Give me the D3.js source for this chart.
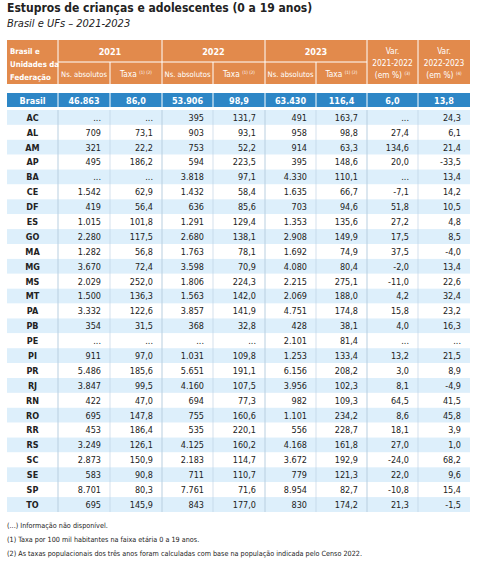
<!DOCTYPE html>
<html><head><meta charset="utf-8">
<script src="https://cdn.jsdelivr.net/npm/d3@7"></script>
<style>
body{margin:0;background:#fff}
svg{font-family:"Liberation Sans Narrow","DejaVu Sans Condensed","Roboto Condensed",sans-serif}
</style></head><body>
<svg id="chart" width="478" height="563"></svg>
<script>
// dados (null = informação não disponível)
const ufs = ["AC","AL","AM","AP","BA","CE","DF","ES","GO","MA","MG","MS","MT","PA","PB","PE","PI","PR","RJ","RN","RO","RR","RS","SC","SE","SP","TO"];
const abs2021 = [null,709,321,495,null,1542,419,1015,2280,1282,3670,2029,1500,3332,354,null,911,5486,3847,422,695,453,3249,2873,583,8701,695];
const taxa2021 = [null,73.1,22.2,186.2,null,62.9,56.4,101.8,117.5,56.8,72.4,252.0,136.3,122.6,31.5,null,97.0,185.6,99.5,47.0,147.8,186.4,126.1,150.9,90.8,80.3,145.9];
const abs2022 = [395,903,753,594,3818,1432,636,1291,2680,1763,3598,1806,1563,3857,368,null,1031,5651,4160,694,755,535,4125,2183,711,7761,843];
const taxa2022 = [131.7,93.1,52.2,223.5,97.1,58.4,85.6,129.4,138.1,78.1,70.9,224.3,142.0,141.9,32.8,null,109.8,191.1,107.5,77.3,160.6,220.1,160.2,114.7,110.7,71.6,177.0];
const abs2023 = [491,958,914,395,4330,1635,703,1353,2908,1692,4080,2215,2069,4751,428,2101,1253,6156,3956,982,1101,556,4168,3672,779,8954,830];
const taxa2023 = [163.7,98.8,63.3,148.6,110.1,66.7,94.6,135.6,149.9,74.9,80.4,275.1,188.0,174.8,38.1,81.4,133.4,208.2,102.3,109.3,234.2,228.7,161.8,192.9,121.3,82.7,174.2];
const var2122 = [null,27.4,134.6,20.0,null,-7.1,51.8,27.2,17.5,37.5,-2.0,-11.0,4.2,15.8,4.0,null,13.2,3.0,8.1,64.5,8.6,18.1,27.0,-24.0,22.0,-10.8,21.3];
const var2223 = [24.3,6.1,21.4,-33.5,13.4,14.2,10.5,4.8,8.5,-4.0,13.4,22.6,32.4,23.2,16.3,null,21.5,8.9,-4.9,41.5,45.8,3.9,1.0,68.2,9.6,15.4,-1.5];
const brasil = [46863,86.0,53906,98.9,63430,116.4,6.0,13.8];
const years = ["2021","2022","2023"];
const notes = ["(...) Informação não disponível.",
  "(1) Taxa por 100 mil habitantes na faixa etária 0 a 19 anos.",
  "(2) As taxas populacionais dos três anos foram calculadas com base na população indicada pelo Censo 2022."];

const svg = d3.select("#chart");
const orange = "#e28a4c", blue = "#2d86c6", light = "#ddeffb", line = "#b9cfe0";
const loc = d3.formatLocale({decimal: ",", thousands: ".", grouping: [3], currency: ["R$", ""], minus: "-"});
const fInt = loc.format(",d"), fDec = loc.format(",.1f");
const fmt = (v, dec) => v == null ? "..." : (dec ? fDec(v) : fInt(v));

const colEdges = [7, 58, 110, 162, 213, 265, 316, 367, 418, 470];
const x = i => colEdges[i];
const left = 7, right = 470;

// título
svg.append("text").attr("x", 7).attr("y", 12).attr("font-size", 12).attr("font-weight", "bold").attr("fill", "#222")
  .text("Estupros de crianças e adolescentes (0 a 19 anos)");
svg.append("text").attr("x", 7).attr("y", 27).attr("font-size", 11).attr("font-style", "italic").attr("fill", "#222")
  .text("Brasil e UFs – 2021-2023");

// cabeçalho
const hTop = 40, hMid = 62, hBot = 84;
svg.append("rect").attr("x", left).attr("y", hTop).attr("width", right - left).attr("height", hBot - hTop).attr("fill", orange);
const hdr = svg.append("g").attr("fill", "#fff").attr("font-size", 8.3);
[[1, hTop, hBot], [7, hTop, hBot], [8, hTop, hBot], [3, hTop, hBot], [5, hTop, hBot], [2, hMid, hBot], [4, hMid, hBot], [6, hMid, hBot]]
  .forEach(([i, y1, y2]) => svg.append("line").attr("x1", x(i)).attr("x2", x(i)).attr("y1", y1).attr("y2", y2).attr("stroke", "#fff").attr("stroke-width", 1));
svg.append("line").attr("x1", x(1)).attr("x2", x(7)).attr("y1", hMid).attr("y2", hMid).attr("stroke", "#fff");
["Brasil e", "Unidades da", "Federação"].forEach((t, k) =>
  hdr.append("text").attr("x", 10).attr("y", 54 + k * 13).attr("font-size", 7.8).attr("font-weight", "bold").text(t));
years.forEach((yr, k) => hdr.append("text").attr("x", (x(1 + 2 * k) + x(3 + 2 * k)) / 2).attr("y", 55)
  .attr("text-anchor", "middle").attr("font-weight", "bold").attr("font-size", 9).text(yr));
years.forEach((yr, k) => {
  hdr.append("text").attr("x", (x(1 + 2 * k) + x(2 + 2 * k)) / 2).attr("y", 77).attr("text-anchor", "middle").attr("font-size", 7.6).text("Ns. absolutos");
  const t = hdr.append("text").attr("x", (x(2 + 2 * k) + x(3 + 2 * k)) / 2).attr("y", 77).attr("text-anchor", "middle");
  t.append("tspan").text("Taxa ");
  t.append("tspan").attr("font-size", 4.5).attr("dy", -3).text("(1) (2)");
});
[["Var.", "2021-2022", "(em %)", "(3)"], ["Var.", "2022-2023", "(em %)", "(4)"]].forEach((a, k) => {
  const cx = (x(7 + k) + x(8 + k)) / 2;
  hdr.append("text").attr("x", cx).attr("y", 54).attr("text-anchor", "middle").text(a[0]);
  hdr.append("text").attr("x", cx).attr("y", 66).attr("text-anchor", "middle").text(a[1]);
  const t = hdr.append("text").attr("x", cx).attr("y", 78).attr("text-anchor", "middle");
  t.append("tspan").text(a[2] + " ");
  t.append("tspan").attr("font-size", 4.5).attr("dy", -3).text(a[3]);
});

// linha Brasil
const bTop = 93, bBot = 107;
svg.append("rect").attr("x", left).attr("y", bTop).attr("width", right - left).attr("height", bBot - bTop).attr("fill", blue);
for (let i = 1; i < 9; i++) svg.append("line").attr("x1", x(i)).attr("x2", x(i)).attr("y1", bTop).attr("y2", bBot).attr("stroke", "#fff");
const bg = svg.append("g").attr("fill", "#fff").attr("font-size", 9).attr("font-weight", "bold");
bg.append("text").attr("x", (x(0) + x(1)) / 2).attr("y", 103.5).attr("text-anchor", "middle").text("Brasil");
brasil.forEach((v, i) => bg.append("text").attr("x", (x(i + 1) + x(i + 2)) / 2).attr("y", 103.5)
  .attr("text-anchor", "middle").text(fmt(v, i % 2 === 1 || i >= 6)));

// linhas das UFs
const y = d3.scaleBand().domain(ufs).range([110, 512]);
const cols = [[abs2021, 0], [taxa2021, 1], [abs2022, 0], [taxa2022, 1], [abs2023, 0], [taxa2023, 1], [var2122, 1], [var2223, 1]];
const rows = svg.append("g").selectAll("g").data(ufs).join("g").attr("transform", d => `translate(0,${y(d)})`);
rows.append("rect").attr("x", left).attr("width", right - left).attr("height", y.bandwidth())
  .attr("fill", (d, i) => i % 2 === 0 ? light : "#fff");
rows.append("text").attr("x", (x(0) + x(1)) / 2).attr("y", y.bandwidth() / 2 + 3.3).attr("text-anchor", "middle")
  .attr("font-size", 9).attr("font-weight", "bold").attr("fill", "#222").text(d => d);
cols.forEach(([arr, dec], c) => {
  rows.append("text").attr("x", x(c + 2) - 9).attr("y", y.bandwidth() / 2 + 3.3).attr("text-anchor", "end")
    .attr("font-size", 9).attr("fill", "#222").text((d, i) => fmt(arr[i], dec));
});
for (let i = 1; i < 9; i++) svg.append("line").attr("x1", x(i)).attr("x2", x(i)).attr("y1", y.range()[0]).attr("y2", y.range()[1])
  .attr("stroke", line).attr("stroke-width", i % 2 === 1 ? 1 : 0.6);

// notas
notes.forEach((t, k) => svg.append("text").attr("x", 7).attr("y", 528 + k * 14).attr("font-size", 7.2).attr("fill", "#222").text(t));
</script></body></html>
